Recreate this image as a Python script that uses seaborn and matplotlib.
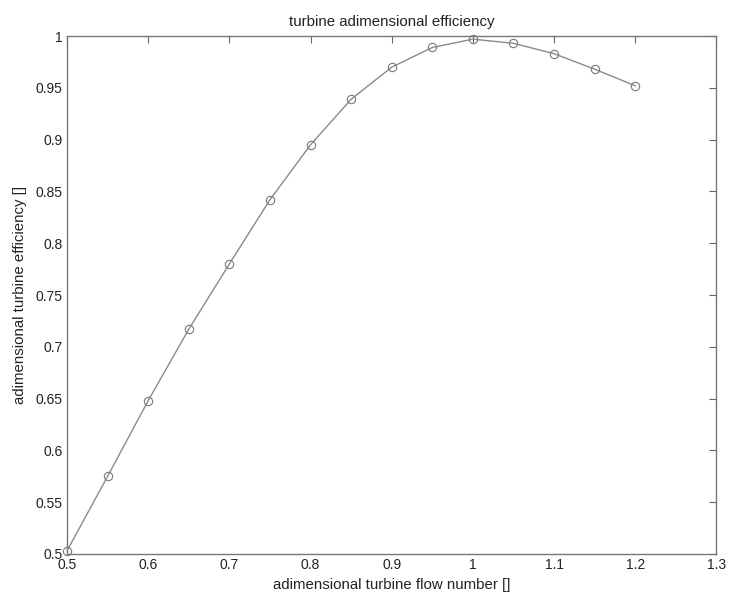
import matplotlib
matplotlib.use("Agg")
import matplotlib.pyplot as plt
import seaborn as sns
import pandas as pd

# data
flow_number = [0.5, 0.55, 0.6, 0.65, 0.7, 0.75, 0.8, 0.85, 0.9, 0.95, 1.0, 1.05, 1.1, 1.15, 1.2]
efficiency = [0.503, 0.575, 0.648, 0.717, 0.780, 0.842, 0.895, 0.939, 0.970, 0.989, 0.997, 0.993, 0.983, 0.968, 0.952]

x_ticks = [0.5, 0.6, 0.7, 0.8, 0.9, 1.0, 1.1, 1.2, 1.3]
x_tick_labels = ["0.5", "0.6", "0.7", "0.8", "0.9", "1", "1.1", "1.2", "1.3"]
y_ticks = [0.5, 0.55, 0.6, 0.65, 0.7, 0.75, 0.8, 0.85, 0.9, 0.95, 1.0]
y_tick_labels = ["0.5", "0.55", "0.6", "0.65", "0.7", "0.75", "0.8", "0.85", "0.9", "0.95", "1"]

df = pd.DataFrame({"x": flow_number, "y": efficiency})

sns.set_theme(style="white")
plt.rcParams["font.family"] = ["Liberation Sans", "DejaVu Sans"]

fig = plt.figure(figsize=(7.33, 5.96), dpi=100)
ax = fig.add_axes([0.0914, 0.0705, 0.886, 0.869])

sns.lineplot(data=df, x="x", y="y", ax=ax, color="#8a8a8a", linewidth=1.0,
             marker="o", markersize=6, markerfacecolor="none",
             markeredgecolor="#7a7a7a", markeredgewidth=0.8, clip_on=False, zorder=3)

ax.set_xlim(0.5, 1.3)
ax.set_ylim(0.5, 1.0)
ax.set_xticks(x_ticks)
ax.set_xticklabels(x_tick_labels)
ax.set_yticks(y_ticks)
ax.set_yticklabels(y_tick_labels)

ax.tick_params(direction="in", top=True, right=True, length=5, width=0.8,
               color="#666666", labelsize=10, labelcolor="#222222", pad=3)
for s in ax.spines.values():
    s.set_visible(True)
    s.set_color("#777777")
    s.set_linewidth(1.0)

ax.set_title("turbine adimensional efficiency", fontsize=10.8, color="#222222", pad=7)
ax.set_xlabel("adimensional turbine flow number []", fontsize=10.8, color="#222222", labelpad=4)
ax.set_ylabel("adimensional turbine efficiency []", fontsize=10.8, color="#222222", labelpad=6)

fig.savefig("out.png", dpi=100)
